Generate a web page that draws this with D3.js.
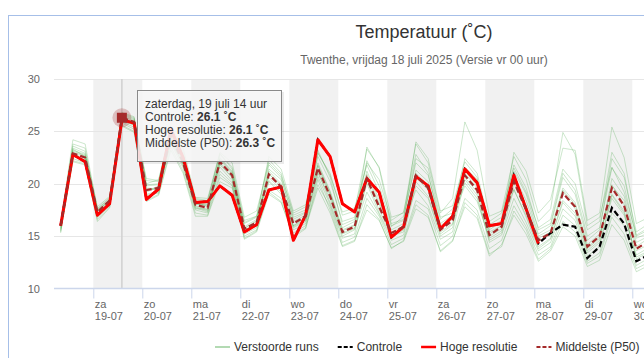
<!DOCTYPE html>
<html>
<head>
<meta charset="utf-8">
<script src="https://d3js.org/d3.v7.min.js"></script>
<style>
  body { margin: 0; background: #fff; }
  svg text { font-family: "Liberation Sans", Arial, sans-serif; }
</style>
</head>
<body>
<div id="chart"></div>
<script>

// eerste tijdstap en stapgrootte (uur)
var startTime = new Date(2025, 6, 18, 8);
var stepHours = 6;

var dayShort = ["zo", "ma", "di", "wo", "do", "vr", "za"];
var dayLong = ["zondag", "maandag", "dinsdag", "woensdag", "donderdag", "vrijdag", "zaterdag"];
var monthNames = ["januari", "februari", "maart", "april", "mei", "juni", "juli",
                  "augustus", "september", "oktober", "november", "december"];
var yTicks = [10, 15, 20, 25, 30];
var seriesNames = ["Verstoorde runs", "Controle", "Hoge resolutie", "Middelste (P50)"];
var shadedDays = [new Date(2025, 6, 19), new Date(2025, 6, 21), new Date(2025, 6, 23),
                  new Date(2025, 6, 25), new Date(2025, 6, 27), new Date(2025, 6, 29)];

var hoge = [16.0, 22.8, 22.1, 17.0, 18.1, 26.1, 25.8, 18.5, 19.5, 25.2, 22.5, 18.2, 18.3, 19.8, 18.9, 15.4,
            16.1, 19.4, 19.7, 14.6, 17.0, 24.2, 22.6, 18.1, 17.3, 20.5, 19.2, 14.9, 15.9, 20.7, 19.8, 15.7,
            16.9, 21.4, 20.1, 16.0, 16.2, 20.8, 17.6, 14.3];

var controle = [16.0, 22.8, 22.1, 17.0, 18.1, 26.1, 25.8, 18.5, 19.5, 25.2, 22.5, 18.2, 18.3, 19.8, 18.9, 15.4,
                16.1, 19.4, 19.7, 14.6, 17.0, 24.2, 22.6, 18.1, 17.3, 20.5, 19.2, 14.9, 15.9, 20.7, 19.8, 15.7,
                16.9, 21.4, 20.1, 16.0, 16.2, 20.8, 17.6, 14.3, 15.3, 16.1, 15.9, 12.9, 14.0, 17.7, 16.2, 12.6, 13.2];

var p50 = [16.0, 22.9, 22.5, 17.3, 18.4, 26.3, 25.9, 19.4, 19.6, 24.6, 22.0, 18.0, 17.7, 22.1, 20.8, 15.7,
           16.3, 20.9, 19.7, 16.2, 16.9, 21.5, 18.8, 15.4, 15.9, 20.5, 17.8, 15.3, 15.9, 20.8, 19.6, 15.6,
           16.5, 20.8, 19.4, 15.1, 15.9, 20.2, 17.5, 14.6, 15.3, 19.1, 17.8, 14.0, 15.0, 19.6, 17.9, 13.8, 14.5];

var runs = [
  [16.2, 24.2, 23.8, 17.6, 18.6, 26.7, 26.3, 20.3, 20.2, 25.3, 23.0, 18.6, 18.4, 22.8, 21.6, 16.3, 16.9, 22.3, 21.0, 17.0, 17.5, 22.6, 20.2, 16.4, 16.8, 22.2, 19.8, 16.2, 16.6, 22.4, 21.5, 16.8, 17.2, 22.4, 21.0, 16.1, 16.8, 21.8, 19.6, 15.6, 16.2, 21.0, 19.4, 15.0, 15.8, 21.5, 19.8, 14.8, 15.3],
  [15.5, 22.2, 21.9, 16.6, 17.8, 25.6, 25.0, 18.4, 19.0, 23.5, 21.2, 17.2, 17.0, 20.6, 19.8, 15.0, 15.6, 19.4, 18.6, 15.3, 16.0, 19.9, 17.8, 14.4, 14.9, 18.6, 16.9, 14.2, 14.8, 18.4, 17.6, 14.1, 15.0, 18.6, 17.5, 13.8, 14.6, 17.9, 15.9, 13.2, 14.0, 17.0, 16.0, 12.6, 13.4, 17.2, 16.0, 12.2, 12.9],
  [16.0, 23.4, 22.9, 17.0, 18.2, 26.0, 25.6, 19.8, 19.9, 24.9, 22.5, 17.8, 17.4, 21.6, 20.3, 15.4, 16.0, 21.4, 20.4, 16.8, 17.3, 22.0, 19.3, 15.8, 16.4, 21.2, 18.5, 15.0, 15.4, 20.2, 18.8, 15.2, 16.1, 21.5, 20.3, 15.8, 16.5, 19.4, 17.0, 14.0, 14.8, 18.4, 17.2, 13.6, 14.6, 20.5, 18.8, 14.4, 15.0],
  [15.8, 23.0, 22.6, 17.5, 18.5, 26.5, 26.1, 19.0, 19.3, 24.2, 21.7, 18.2, 18.0, 22.5, 21.2, 15.9, 16.6, 21.0, 19.6, 16.0, 16.6, 22.9, 21.0, 17.0, 17.4, 23.3, 21.6, 16.8, 17.2, 23.8, 22.0, 17.2, 18.6, 25.9, 23.2, 16.9, 17.4, 22.6, 20.4, 16.4, 17.6, 24.9, 22.8, 16.0, 16.8, 21.6, 19.2, 15.1, 15.8],
  [15.3, 22.6, 22.3, 16.8, 17.9, 25.8, 25.2, 18.8, 19.2, 23.9, 21.5, 17.5, 17.2, 20.9, 19.9, 14.8, 15.5, 19.2, 18.3, 14.9, 15.7, 20.4, 17.5, 14.1, 14.6, 17.5, 16.5, 13.9, 14.5, 17.6, 16.8, 13.6, 14.6, 17.8, 16.7, 13.1, 14.2, 17.0, 15.2, 12.6, 13.6, 15.9, 15.0, 12.1, 12.7, 16.1, 14.6, 11.6, 12.2],
  [16.1, 23.6, 23.1, 17.8, 18.8, 26.4, 26.0, 20.0, 20.4, 25.0, 22.6, 18.5, 18.3, 22.9, 21.4, 16.5, 16.9, 20.3, 19.2, 15.9, 16.5, 21.2, 18.2, 15.0, 15.6, 20.0, 17.2, 14.9, 15.6, 21.3, 20.2, 16.2, 17.0, 20.1, 18.6, 14.6, 15.3, 19.5, 16.8, 13.8, 14.7, 18.2, 16.9, 13.4, 14.4, 18.6, 17.0, 13.2, 13.9],
  [15.9, 22.7, 22.2, 17.1, 18.3, 26.2, 25.7, 19.2, 19.7, 24.4, 21.8, 17.6, 17.6, 22.3, 21.0, 16.2, 16.8, 22.6, 21.4, 17.4, 18.0, 23.2, 20.6, 16.1, 16.6, 22.0, 20.4, 16.5, 17.3, 22.8, 21.0, 16.0, 16.8, 19.8, 18.3, 14.8, 15.5, 21.2, 19.0, 15.2, 16.0, 20.6, 19.0, 14.6, 15.6, 22.4, 20.6, 15.4, 16.2],
  [16.1, 23.2, 22.8, 17.4, 18.4, 26.6, 26.2, 19.6, 19.5, 24.0, 21.9, 18.1, 17.9, 21.8, 20.6, 15.6, 16.2, 20.6, 19.4, 15.8, 16.4, 21.0, 18.6, 15.2, 15.7, 19.2, 17.1, 14.6, 15.1, 19.8, 18.6, 15.0, 15.8, 21.2, 19.8, 15.6, 16.4, 20.8, 18.4, 15.0, 15.6, 19.6, 18.2, 14.2, 15.2, 18.9, 17.2, 13.0, 13.6],
  [15.7, 22.4, 22.0, 16.9, 18.0, 25.9, 25.4, 18.9, 19.1, 24.3, 22.2, 18.3, 17.8, 21.2, 20.1, 15.2, 15.8, 20.2, 19.0, 15.6, 16.2, 20.7, 18.0, 14.8, 15.2, 20.9, 18.2, 15.6, 16.2, 19.4, 17.9, 14.7, 15.4, 20.4, 18.9, 14.4, 15.1, 18.6, 16.3, 13.6, 14.4, 17.6, 16.5, 13.1, 14.0, 19.0, 17.4, 12.8, 13.5],
  [16.0, 23.8, 23.4, 17.2, 18.1, 26.8, 26.4, 19.9, 20.0, 24.8, 22.4, 17.9, 17.5, 21.9, 20.6, 15.8, 16.4, 21.8, 20.6, 16.6, 17.2, 21.7, 19.0, 15.5, 16.0, 23.5, 21.5, 16.0, 16.5, 24.0, 22.4, 17.4, 17.9, 22.1, 20.6, 15.4, 16.0, 23.0, 21.2, 17.2, 18.5, 23.4, 23.2, 16.5, 17.2, 25.4, 22.5, 16.2, 16.8],
  [15.6, 22.9, 22.4, 17.3, 18.5, 26.1, 25.6, 19.3, 19.8, 24.6, 22.1, 17.7, 17.3, 22.4, 21.1, 15.5, 16.1, 21.2, 20.0, 16.4, 17.0, 21.8, 19.2, 15.6, 16.1, 20.6, 18.0, 15.3, 16.0, 20.6, 19.4, 15.4, 16.2, 20.6, 19.2, 15.0, 15.7, 20.0, 17.7, 14.5, 15.1, 19.4, 18.0, 13.8, 14.8, 19.8, 18.4, 14.0, 14.8],
  [16.2, 23.1, 22.7, 17.6, 18.7, 26.3, 25.8, 19.5, 19.4, 24.7, 22.0, 18.0, 18.1, 22.0, 20.9, 15.7, 16.5, 20.9, 19.9, 16.0, 16.8, 21.4, 18.9, 15.3, 15.8, 20.3, 17.5, 15.1, 15.8, 21.0, 19.8, 15.8, 16.6, 21.0, 19.6, 15.2, 16.0, 20.4, 17.9, 14.8, 15.4, 19.3, 17.6, 13.9, 15.0, 19.9, 18.0, 13.6, 14.2],
  [15.4, 22.1, 21.8, 16.4, 17.7, 25.5, 24.9, 18.3, 18.9, 23.2, 21.0, 16.9, 16.9, 20.2, 19.6, 14.7, 15.4, 19.0, 18.2, 15.1, 15.8, 19.6, 17.2, 14.0, 14.5, 18.0, 16.6, 13.8, 14.6, 18.0, 17.0, 13.5, 14.5, 18.2, 17.0, 13.3, 14.0, 17.4, 15.6, 12.8, 13.8, 16.4, 15.4, 12.4, 13.1, 16.8, 15.2, 11.9, 12.5],
  [16.0, 23.3, 22.6, 17.5, 18.3, 26.2, 25.9, 20.5, 20.3, 25.4, 23.4, 18.7, 18.6, 23.0, 22.0, 16.8, 17.4, 22.0, 20.8, 17.2, 17.8, 23.0, 20.8, 17.3, 17.7, 21.8, 19.2, 15.9, 16.9, 22.0, 20.8, 16.6, 17.6, 21.6, 20.4, 16.4, 17.2, 21.5, 19.2, 15.8, 16.6, 21.4, 20.0, 15.6, 16.4, 23.0, 21.0, 15.0, 15.6]
];

var hoverIndex = 5;

var width = 644, height = 358;
var plotLeft = 54, plotTop = 79, plotBottom = 288.5, plotRight = 900;

function timeAt(i) { return d3.timeHour.offset(startTime, i * stepHours); }

var x = d3.scaleTime()
  .domain([new Date(2025, 6, 19), new Date(2025, 6, 20)])
  .range([93.3, 142.3]);
var y = d3.scaleLinear().domain([10, 30]).range([plotBottom, plotTop]);

var svg = d3.select('#chart').append('svg')
  .attr('width', width)
  .attr('height', height);

// kader
svg.append('rect')
  .attr('x', 8.5).attr('y', 15.5)
  .attr('width', 1000).attr('height', 500)
  .attr('fill', 'white')
  .attr('stroke', '#a6bfe8');

// titels
svg.append('text')
  .attr('x', 424).attr('y', 38)
  .attr('text-anchor', 'middle')
  .attr('font-size', 18)
  .attr('fill', '#333')
  .text('Temperatuur (˚C)');
svg.append('text')
  .attr('x', 424).attr('y', 64)
  .attr('text-anchor', 'middle')
  .attr('font-size', 12)
  .attr('fill', '#666')
  .text('Twenthe, vrijdag 18 juli 2025 (Versie vr 00 uur)');

// dagbanden
svg.append('g').selectAll('rect')
  .data(shadedDays).enter()
  .append('rect')
  .attr('x', function (d) { return x(d); })
  .attr('y', plotTop)
  .attr('width', function (d) { return x(d3.timeDay.offset(d, 1)) - x(d); })
  .attr('height', plotBottom - plotTop)
  .attr('fill', '#f1f1f1');

// rasterlijnen
svg.append('g').selectAll('line')
  .data(yTicks.filter(function (t) { return t > 10; })).enter()
  .append('line')
  .attr('x1', plotLeft).attr('x2', plotRight)
  .attr('y1', function (d) { return Math.round(y(d)) + 0.5; })
  .attr('y2', function (d) { return Math.round(y(d)) + 0.5; })
  .attr('stroke', '#e6e6e6');

// crosshair
var hoverTime = timeAt(hoverIndex);
svg.append('line')
  .attr('x1', x(hoverTime)).attr('x2', x(hoverTime))
  .attr('y1', plotTop).attr('y2', plotBottom)
  .attr('stroke', '#d0d0d0')
  .attr('stroke-width', 1.5);

var line = d3.line()
  .x(function (d, i) { return x(timeAt(i)); })
  .y(function (d) { return y(d); });

// verstoorde runs
svg.append('g').selectAll('path')
  .data(runs).enter()
  .append('path')
  .attr('d', line)
  .attr('fill', 'none')
  .attr('stroke', '#2f9a2f')
  .attr('stroke-opacity', 0.24)
  .attr('stroke-width', 1);

svg.append('path')
  .attr('d', line(controle))
  .attr('fill', 'none')
  .attr('stroke', '#000')
  .attr('stroke-width', 2.2)
  .attr('stroke-dasharray', '6,3');

svg.append('path')
  .attr('d', line(hoge))
  .attr('fill', 'none')
  .attr('stroke', '#ff0000')
  .attr('stroke-width', 3)
  .attr('stroke-linejoin', 'round');

svg.append('path')
  .attr('d', line(p50))
  .attr('fill', 'none')
  .attr('stroke', '#a52a2a')
  .attr('stroke-width', 2.2)
  .attr('stroke-dasharray', '6,3');

// x-as
svg.append('line')
  .attr('x1', plotLeft).attr('x2', plotRight)
  .attr('y1', plotBottom).attr('y2', plotBottom)
  .attr('stroke', '#ccd6eb')
  .attr('stroke-width', 1.5);

var days = d3.timeDay.range(new Date(2025, 6, 19), new Date(2025, 7, 1));
var xAxis = svg.append('g')
  .attr('transform', 'translate(0,' + plotBottom + ')')
  .call(d3.axisBottom(x).tickValues(days).tickSize(10).tickFormat(''));
xAxis.select('.domain').remove();
xAxis.selectAll('.tick line').attr('stroke', '#ccd6eb');
xAxis.selectAll('.tick text').remove();
xAxis.selectAll('.tick').each(function (d) {
  var t = d3.select(this).append('text')
    .attr('x', 1)
    .attr('fill', '#666')
    .attr('font-size', 11)
    .attr('text-anchor', 'start');
  t.append('tspan').attr('x', 1).attr('y', 19).text(dayShort[d.getDay()]);
  t.append('tspan').attr('x', 1).attr('y', 31).text(d3.timeFormat('%d-%m')(d));
});

// y-as
var yAxis = svg.append('g')
  .attr('transform', 'translate(40,0)')
  .call(d3.axisLeft(y).tickValues(yTicks).tickSize(0).tickPadding(0));
yAxis.select('.domain').remove();
yAxis.selectAll('.tick text')
  .attr('fill', '#666')
  .attr('font-size', 11)
  .attr('font-family', '"Liberation Sans", Arial, sans-serif');

// hover marker
var mx = x(hoverTime), my = y(p50[hoverIndex]);
svg.append('circle')
  .attr('cx', mx).attr('cy', my).attr('r', 9.5)
  .attr('fill', '#a52a2a').attr('fill-opacity', 0.25);
svg.append('rect')
  .attr('x', mx - 5).attr('y', my - 5)
  .attr('width', 10).attr('height', 10)
  .attr('fill', '#a52a2a');

// tooltip
var tip = svg.append('g').attr('transform', 'translate(137,90)');
tip.append('rect')
  .attr('x', 2).attr('y', 2).attr('width', 145).attr('height', 72)
  .attr('fill', 'rgba(0,0,0,0.08)');
tip.append('rect')
  .attr('x', 0.5).attr('y', 0.5).attr('width', 144).attr('height', 71)
  .attr('fill', 'rgba(247,247,247,0.88)')
  .attr('stroke', '#8a8a8a');

var hd = hoverTime;
var tipTitle = dayLong[hd.getDay()] + ', ' + hd.getDate() + ' ' + monthNames[hd.getMonth()] + ' ' + hd.getHours() + ' uur';
var tipRows = [
  [seriesNames[1], controle[hoverIndex]],
  [seriesNames[2], hoge[hoverIndex]],
  [seriesNames[3], p50[hoverIndex]]
];
tip.append('text')
  .attr('x', 8).attr('y', 18)
  .attr('font-size', 12).attr('fill', '#333')
  .text(tipTitle);
tipRows.forEach(function (r, i) {
  var t = tip.append('text')
    .attr('x', 8).attr('y', 31 + i * 13)
    .attr('font-size', 12).attr('fill', '#333');
  t.append('tspan').text(r[0] + ': ');
  t.append('tspan').attr('font-weight', 'bold').text(d3.format('.1f')(r[1]) + ' ˚C');
});

// legenda
var legendStyles = [
  { color: '#b3dab3', dash: null, w: 2 },
  { color: '#000', dash: '4,2', w: 2 },
  { color: '#ff0000', dash: null, w: 2.5 },
  { color: '#a52a2a', dash: '4,2', w: 2 }
];
var legend = svg.append('g');
var lx = 215;
seriesNames.forEach(function (name, i) {
  var g = legend.append('g').attr('transform', 'translate(' + lx + ',347)');
  g.append('line')
    .attr('x1', 0).attr('x2', 15)
    .attr('stroke', legendStyles[i].color)
    .attr('stroke-width', legendStyles[i].w)
    .attr('stroke-dasharray', legendStyles[i].dash);
  var t = g.append('text')
    .attr('x', 19).attr('y', 4)
    .attr('font-size', 12).attr('fill', '#333')
    .text(name);
  lx += 19 + t.node().getComputedTextLength() + 19;
});

</script>
</body>
</html>
